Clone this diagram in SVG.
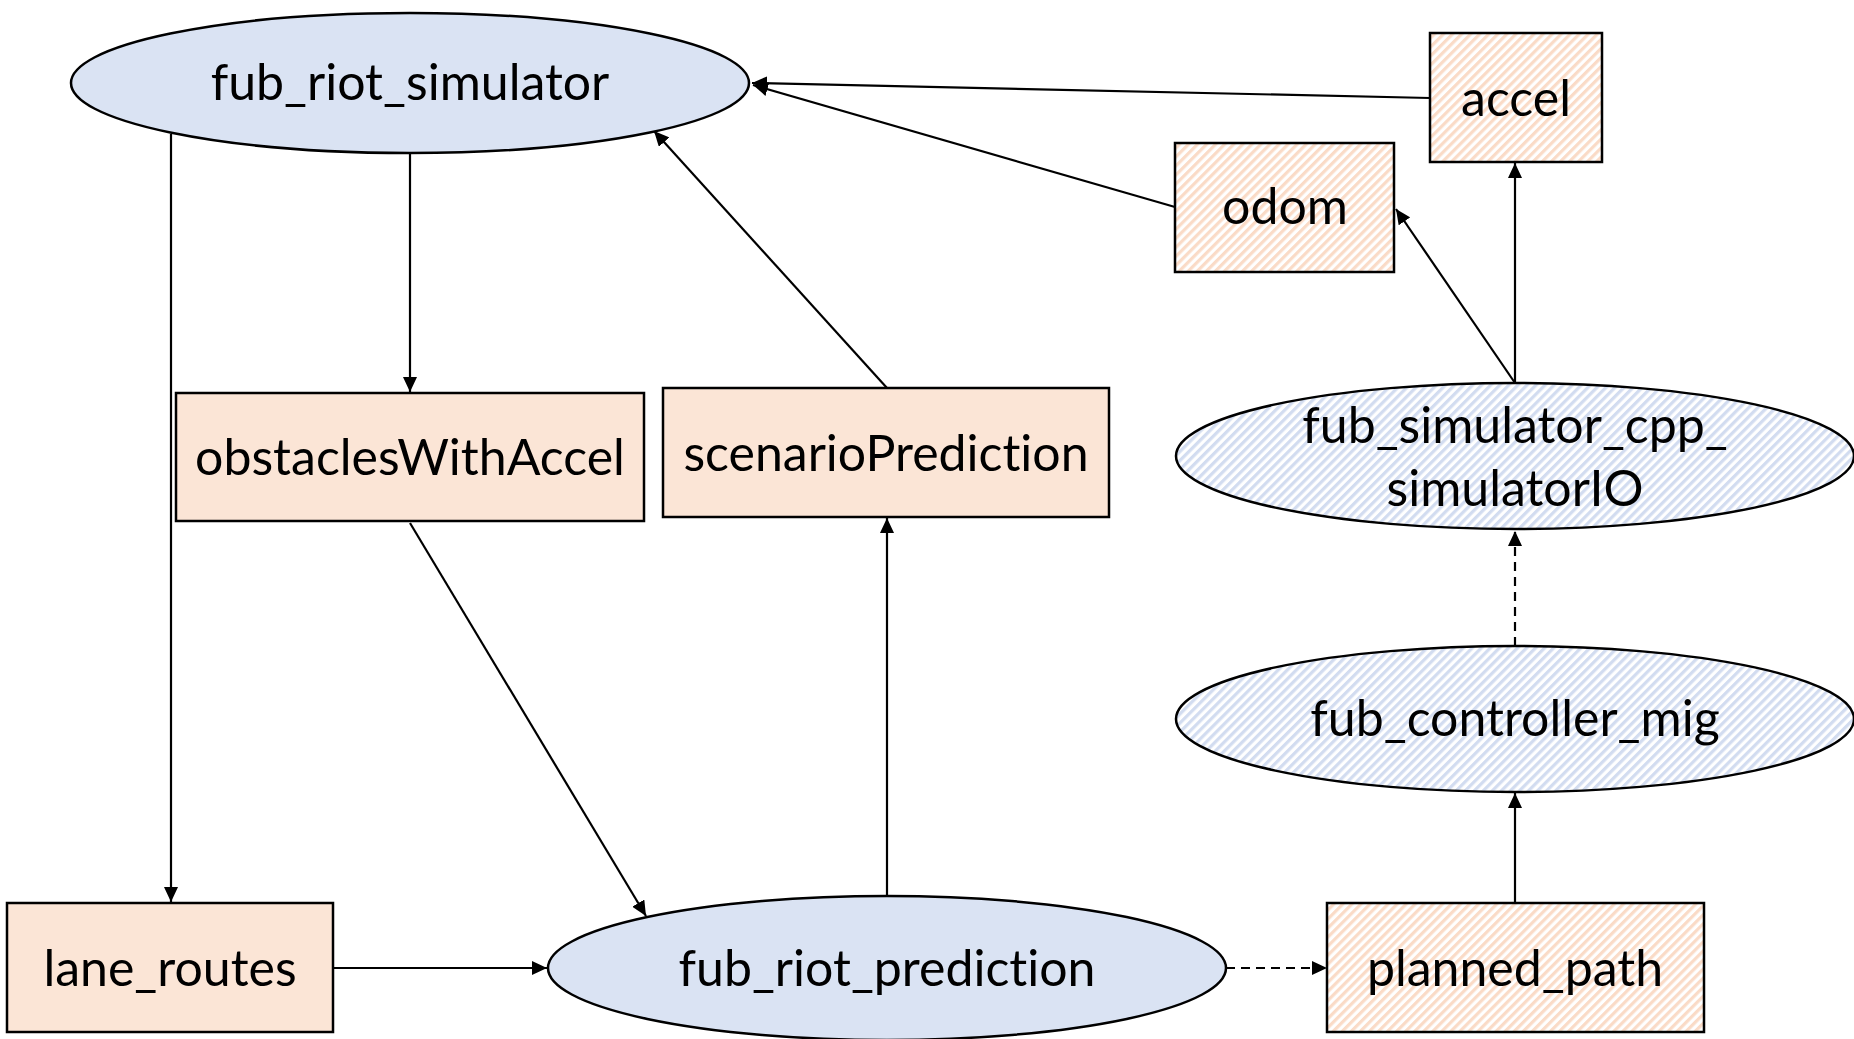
<svg xmlns="http://www.w3.org/2000/svg" width="1854" height="1039" viewBox="0 0 1854 1039">
  <style>
    .lbl { font-family: Lato, "Open Sans", "Liberation Sans", sans-serif; font-size: 50px; fill: #000; text-anchor: middle; font-variant-ligatures: none; font-feature-settings: "liga" 0, "dlig" 0; }
    .topic { fill: #FBE5D6; stroke: #000; stroke-width: 2.5; }
    .topic-h { fill: url(#hatchPeach); stroke: #000; stroke-width: 2.5; }
    .node { fill: #DAE3F3; stroke: #000; stroke-width: 2.5; }
    .node-h { fill: url(#hatchBlue); stroke: #000; stroke-width: 2.5; }
    .edge { fill: none; stroke: #000; stroke-width: 2.2; marker-end: url(#arrow); }
    .dashed { stroke-dasharray: 9 6; }
  </style>
  <defs>
    <!-- diagonal "/" hatching for the hatched topics and nodes -->
    <pattern id="hatchPeach" patternUnits="userSpaceOnUse" width="6.4" height="10" patternTransform="rotate(45)">
      <rect x="0" y="0" width="6.4" height="10" fill="#fff"/>
      <rect x="0" y="0" width="3.2" height="10" fill="#FADBC7"/>
    </pattern>
    <pattern id="hatchBlue" patternUnits="userSpaceOnUse" width="6.4" height="10" patternTransform="rotate(45)">
      <rect x="0" y="0" width="6.4" height="10" fill="#fff"/>
      <rect x="0" y="0" width="3.2" height="10" fill="#D2DCF0"/>
    </pattern>
    <marker id="arrow" markerUnits="userSpaceOnUse" markerWidth="16" markerHeight="14" refX="15" refY="7" orient="auto">
      <path d="M0,0 L15,7 L0,14 z" fill="#000"/>
    </marker>
  </defs>

  <rect width="1854" height="1039" fill="#fff"/>

  <!-- connectors -->
  <g id="edges">
    <line class="edge" x1="1430" y1="98" x2="752" y2="83"/>
    <line class="edge" x1="1175" y1="207" x2="753" y2="85"/>
    <line class="edge" x1="1515" y1="383" x2="1396" y2="209"/>
    <line class="edge" x1="1515" y1="383" x2="1515" y2="163"/>
    <line class="edge dashed" x1="1515" y1="646" x2="1515" y2="531"/>
    <line class="edge" x1="1515" y1="903" x2="1515" y2="793"/>
    <line class="edge dashed" x1="1226" y1="968" x2="1327" y2="968"/>
    <line class="edge" x1="334" y1="968" x2="547" y2="968"/>
    <line class="edge" x1="171" y1="134" x2="171" y2="902"/>
    <line class="edge" x1="410" y1="154" x2="410" y2="392"/>
    <line class="edge" x1="410" y1="523" x2="646" y2="916"/>
    <line class="edge" x1="887" y1="895" x2="887" y2="518"/>
    <line class="edge" x1="887" y1="388" x2="654" y2="131"/>
  </g>

  <g id="fub_riot_simulator">
    <ellipse class="node" cx="410" cy="83" rx="339" ry="70"/>
    <text class="lbl" x="410" y="100">fub_riot_simulator</text>
  </g>

  <g id="accel">
    <rect class="topic-h" x="1430" y="33" width="172" height="129"/>
    <text class="lbl" x="1516" y="116">accel</text>
  </g>

  <g id="odom">
    <rect class="topic-h" x="1175" y="143" width="219" height="129"/>
    <text class="lbl" x="1285" y="224">odom</text>
  </g>

  <g id="obstaclesWithAccel">
    <rect class="topic" x="176" y="393" width="468" height="128"/>
    <text class="lbl" x="410" y="475">obstaclesWithAccel</text>
  </g>

  <g id="scenarioPrediction">
    <rect class="topic" x="663" y="388" width="446" height="129"/>
    <text class="lbl" x="886" y="471">scenarioPrediction</text>
  </g>

  <g id="fub_simulator_cpp_simulatorIO">
    <ellipse class="node-h" cx="1515" cy="456" rx="339" ry="73"/>
    <text class="lbl" x="1515" y="443">fub_simulator_cpp_</text>
    <text class="lbl" x="1515" y="506">simulatorIO</text>
  </g>

  <g id="fub_controller_mig">
    <ellipse class="node-h" cx="1515" cy="719" rx="339" ry="73"/>
    <text class="lbl" x="1515" y="736">fub_controller_mig</text>
  </g>

  <g id="lane_routes">
    <rect class="topic" x="7" y="903" width="326" height="129"/>
    <text class="lbl" x="170" y="986">lane_routes</text>
  </g>

  <g id="fub_riot_prediction">
    <ellipse class="node" cx="887" cy="968" rx="339" ry="72"/>
    <text class="lbl" x="887" y="986">fub_riot_prediction</text>
  </g>

  <g id="planned_path">
    <rect class="topic-h" x="1327" y="903" width="377" height="129"/>
    <text class="lbl" x="1515" y="986">planned_path</text>
  </g>
</svg>
